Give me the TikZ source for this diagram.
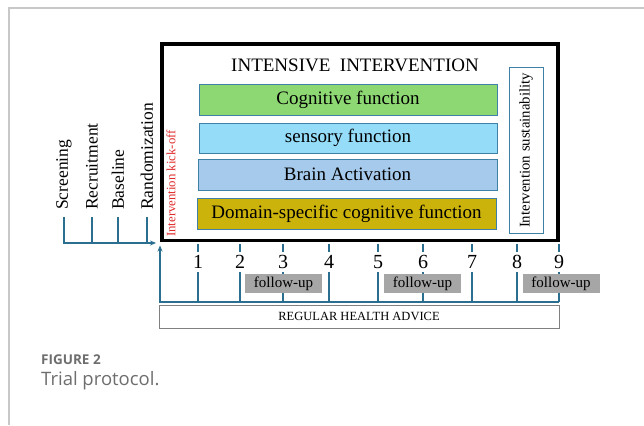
\documentclass[tikz,border=0pt]{standalone}
\usepackage{fontspec}
\setmainfont{Liberation Serif}
\newfontfamily\capfont{Open Sans}
\usetikzlibrary{arrows.meta}

\definecolor{linecol}{HTML}{2B6E8F}
\definecolor{boxedge}{HTML}{3F80A6}
\definecolor{cogfill}{HTML}{8ED873}
\definecolor{sensfill}{HTML}{94DCF8}
\definecolor{brainfill}{HTML}{A6CAEC}
\definecolor{domfill}{HTML}{CBB30C}
\definecolor{fugray}{HTML}{A6A6A6}
\definecolor{kickred}{HTML}{E02A2A}
\definecolor{capgray}{HTML}{6E6E6E}
\definecolor{framegray}{HTML}{C8C8C8}

\tikzset{tealline/.style={draw=linecol,line width=1.3pt}}
\tikzset{tealarrow/.style={tealline,-{Stealth[length=6pt,width=5pt]}}}
\tikzset{compbox/.style={draw=boxedge,line width=0.9pt,minimum width=298pt,minimum height=31pt,inner sep=0pt,font=\fontsize{19}{21}\selectfont}}
\tikzset{stagelabel/.style={rotate=90,anchor=west,inner sep=2pt,font=\fontsize{17.5}{19}\selectfont}}
\tikzset{weeknum/.style={inner sep=3.5pt,font=\fontsize{20}{22}\selectfont}}
\tikzset{followbox/.style={fill=fugray,minimum width=77pt,minimum height=19pt,inner sep=0pt,font=\fontsize{15}{16}\selectfont}}

\begin{document}
\begin{tikzpicture}[x=1pt,y=-1pt]
        \useasboundingbox (0,0) rectangle (644,425);
        % page frame
        \draw[framegray,line width=1.5pt] (9,425) -- (9,8) -- (644,8);

        % intensive intervention block
        \node[draw=black,line width=3.5pt,minimum width=396pt,minimum height=196.5pt,inner sep=0pt] (intensive) at (360,142.25) {};
        \node[font=\fontsize{19}{21}\selectfont] (title) at (355,65.5) {INTENSIVE\ \ INTERVENTION};
        \node[compbox,fill=cogfill] (cog) at (348,99.5) {Cognitive function};
        \node[compbox,fill=sensfill,minimum height=30pt] (sens) at (348,138) {sensory function};
        \node[compbox,fill=brainfill,minimum width=299pt] (brain) at (347.5,174.5) {Brain Activation};
        \node[compbox,fill=domfill,minimum width=299pt] (domain) at (346.5,213.5) {Domain-specific cognitive function};
        \node[draw=boxedge,line width=1pt,rotate=90,minimum width=165pt,minimum height=34pt,inner sep=0pt,font=\fontsize{14.8}{16}\selectfont] (sust) at (526,150.5) {Intervention sustainability};
        \node[rotate=90,text=kickred,inner sep=0pt,font=\fontsize{12.8}{14}\selectfont] (kick) at (171,183.5) {Intervention kick-off};

        % stages before the start
        \foreach \name/\xpos/\txt in {screen/64/Screening,recruit/92/Recruitment,base/118/Baseline,random/147/Randomization}
            \node[stagelabel] (\name) at (\xpos,212) {\txt};
        \coordinate (busend) at (156,243);
        \draw[tealarrow] ([yshift=-5pt]screen.west) |- (busend);
        \foreach \name in {recruit,base,random}
            \draw[tealline] ([yshift=-5pt]\name.west) -- (\name.west |- busend);

        % time axis
        \coordinate (axisL) at (160,302);
        \coordinate (axisR) at (559,302);
        \coordinate (kickup) at (160,245.5);
        \coordinate (ticktop) at (0,243.5);
        \draw[tealarrow] (axisR) -- (axisL) -- (kickup);
        \foreach \n/\xpos in {1/198,2/240,3/283,4/329,5/378,6/423,7/472,8/517,9/559} {
            \node[weeknum] (w\n) at (\xpos,262) {\n};
            \draw[tealline] (w\n.north |- ticktop) -- (w\n.north);
            \draw[tealline] (w\n.south) -- (w\n.south |- axisL);
        }
        \foreach \n/\xpos in {3/283.5,6/422.5,9/561}
            \node[followbox] (fu\n) at (\xpos,283.5) {follow-up};

        % regular advice bar
        \node[draw=gray,line width=0.8pt,minimum width=400pt,minimum height=23pt,inner sep=0pt,font=\fontsize{12.5}{14}\selectfont] (regular) at (359,316.5) {REGULAR HEALTH ADVICE};

        % caption
        \node[anchor=base west,inner sep=0pt,text=capgray,font=\capfont\bfseries\fontsize{13.5}{15}\selectfont] (figlabel) at (41,364.5) {FIGURE 2};
        \node[anchor=base west,inner sep=0pt,text=capgray,font=\capfont\fontsize{18.5}{20}\selectfont] (figtitle) at (41,385) {Trial protocol.};
\end{tikzpicture}
\end{document}
